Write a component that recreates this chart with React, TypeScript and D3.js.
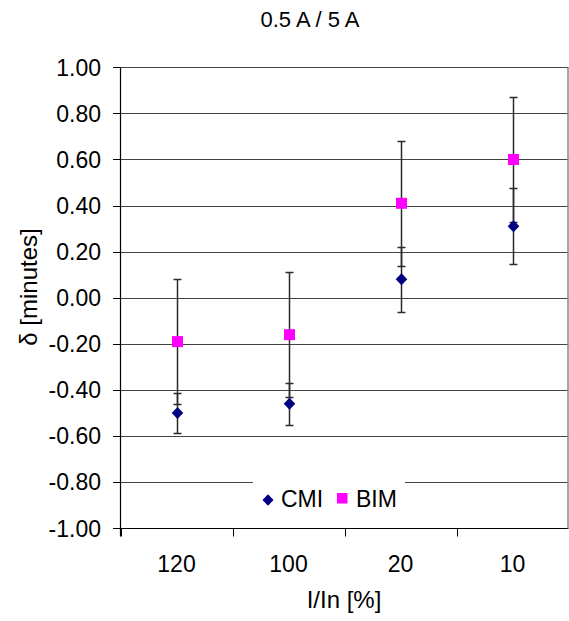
import React from "react";
import * as d3 from "d3";

const categories = ["120", "100", "20", "10"];
const cmiValues = [-0.5, -0.46, 0.08, 0.31];
const cmiErrors = [0.085, 0.09, 0.14, 0.165];
const bimValues = [-0.19, -0.16, 0.41, 0.6];
const bimErrors = [0.27, 0.27, 0.27, 0.27];
const yTicks = [1, 0.8, 0.6, 0.4, 0.2, 0, -0.2, -0.4, -0.6, -0.8, -1];
const seriesNames = ["CMI", "BIM"];

const W = 569;
const H = 621;
const FONT = "'Liberation Sans', Arial, Helvetica, sans-serif";
const FS = 23;

const fmt = (v: number) => d3.format(".2f")(v).replace("\u2212", "-");
const diamondPath = (r: number, ry: number) =>
  d3.line()([
    [0, -ry],
    [r, 0],
    [0, ry],
    [-r, 0],
    [0, -ry],
  ]) as string;

export default function App() {
  const x = d3.scaleBand<string>().domain(categories).range([120.5, 568.5]);
  const y = d3.scaleLinear().domain([-1, 1]).range([528.3, 67.3]);
  const crisp = (v: number) => Math.round(v) + 0.5;
  const cx = (c: string) => (x(c) as number) + x.bandwidth() / 2;
  const left = 120.5;
  const right = 568.5;

  const errBar = (c: string, v: number, e: number, key: string) => {
    const px = crisp(cx(c));
    const t = crisp(y(v + e));
    const b = crisp(y(v - e));
    return (
      <g key={key} stroke="#2a2a2a" strokeWidth={1.5}>
        <line x1={px} x2={px} y1={t} y2={b} />
        <line x1={px - 4} x2={px + 4} y1={t} y2={t} />
        <line x1={px - 4} x2={px + 4} y1={b} y2={b} />
      </g>
    );
  };

  return (
    <svg
      width={W}
      height={H}
      style={{ position: "absolute", left: 0, top: 0, background: "#fff" }}
      fontFamily={FONT}
    >
      <rect x={0} y={0} width={W} height={H} fill="#fff" />
      {yTicks.map((t) => (
        <line
          key={"g" + t}
          x1={left}
          x2={right}
          y1={crisp(y(t))}
          y2={crisp(y(t))}
          stroke={t === -1 ? "#000" : "#444"}
          strokeWidth={1.2}
        />
      ))}
      <line x1={568} x2={568} y1={crisp(y(1))} y2={crisp(y(-1))} stroke="#888" strokeWidth={1.5} />
      <line x1={left} x2={left} y1={crisp(y(1))} y2={crisp(y(-1)) + 8} stroke="#000" strokeWidth={1.2} />
      {yTicks.map((t) => (
        <g key={"yt" + t}>
          <line x1={113} x2={left} y1={crisp(y(t))} y2={crisp(y(t))} stroke="#000" />
          <text x={101} y={y(t)} dy="0.36em" textAnchor="end" fontSize={FS} fill="#000">
            {fmt(t)}
          </text>
        </g>
      ))}
      {categories.map((c) => (
        <line
          key={"xt" + c}
          x1={crisp(x(c) as number)}
          x2={crisp(x(c) as number)}
          y1={crisp(y(-1))}
          y2={crisp(y(-1)) + 8}
          stroke="#000"
        />
      ))}
      {categories.map((c) => (
        <text key={"xl" + c} x={cx(c)} y={572} textAnchor="middle" fontSize={FS} fill="#000">
          {c}
        </text>
      ))}
      <rect x={253} y={470} width={152} height={44} fill="#fff" />
      <path d={diamondPath(5.5, 5.8)} transform="translate(268,500)" fill="#000080" />
      <text x={281} y={507} fontSize={FS} fill="#000">
        {seriesNames[0]}
      </text>
      <rect x={337} y={493} width={10.5} height={10.5} fill="#ff00ff" />
      <text x={356} y={507} fontSize={FS} fill="#000">
        {seriesNames[1]}
      </text>
      {categories.map((c, i) => errBar(c, bimValues[i], bimErrors[i], "eb" + i))}
      {categories.map((c, i) => errBar(c, cmiValues[i], cmiErrors[i], "ec" + i))}
      {categories.map((c, i) => (
        <path
          key={"mc" + i}
          d={diamondPath(5.8, 6)}
          transform={`translate(${crisp(cx(c))},${y(cmiValues[i])})`}
          fill="#000080"
        />
      ))}
      {categories.map((c, i) => (
        <rect
          key={"mb" + i}
          x={crisp(cx(c)) - 5.5}
          y={y(bimValues[i]) - 5.5}
          width={11}
          height={11}
          fill="#ff00ff"
        />
      ))}
      <text x={310} y={27} textAnchor="middle" fontSize={22} fill="#000">
        0.5 A / 5 A
      </text>
      <text x={344} y={608} textAnchor="middle" fontSize={24} fill="#000">
        I/In [%]
      </text>
      <text transform="translate(37,287) rotate(-90)" textAnchor="middle" fontSize={24} fill="#000">
        δ [minutes]
      </text>
    </svg>
  );
}
